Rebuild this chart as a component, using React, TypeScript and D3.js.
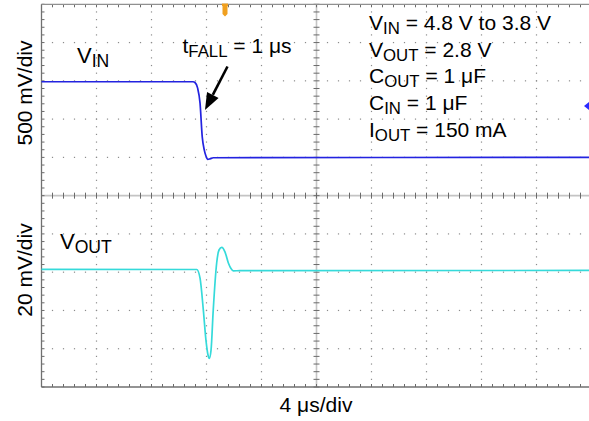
import React from "react";
import * as d3 from "d3";

// ---- Data (time in µs, voltages in V) ----
const vinTimeUs = [-20, -8.98, -8.84, -8.65, -8.47, -8.31, -8.16, -8.04, -7.91, -7.75, -7.51, 20];
const vinVolts = [4.8, 4.8, 4.79, 4.72, 4.52, 4.08, 3.907, 3.83, 3.786, 3.792, 3.807, 3.812];

const voutTimeUs = [-20, -8.71, -8.47, -8.23, -8.04, -7.89, -7.8, -7.67, -7.51, -7.26, -7.09, -6.89, -6.65, -6.41, -6.22, -6.05, -5.56, 20];
const voutVolts = [2.8004, 2.8003, 2.7958, 2.7791, 2.7634, 2.7556, 2.7538, 2.7582, 2.7791, 2.8037, 2.8105, 2.8119, 2.8094, 2.8037, 2.8008, 2.7996, 2.7997, 2.7998];

const timeDomainUs = [-20, 20];
const vinDomain = [0.8118, 5.8118]; // 500 mV/div, 10 div
const voutDomain = [2.7389, 2.9389]; // 20 mV/div, 10 div

const yLabelTop = "500 mV/div";
const yLabelBottom = "20 mV/div";
const xLabel = "4 \u03bcs/div";

const paramLines: [string, string, string][] = [
  ["V", "IN", " = 4.8 V to 3.8 V"],
  ["V", "OUT", " = 2.8 V"],
  ["C", "OUT", " = 1 \u03bcF"],
  ["C", "IN", " = 1 \u03bcF"],
  ["I", "OUT", " = 150 mA"],
];

// ---- Layout ----
const W = 589;
const H = 421;
const left = 41.5;
const top = 4.3;
const divW = 55;
const divH = 38.27;
const nDiv = 10;
const right = left + divW * nDiv;
const bottom = top + divH * nDiv;
const FONT = "'Liberation Sans', Arial, Helvetica, sans-serif";

const VIN_COLOR = "#2323e0";
const VOUT_COLOR = "#35dada";

export default function App() {
  const x = d3.scaleLinear().domain(timeDomainUs).range([left, right]);
  const yVin = d3.scaleLinear().domain(vinDomain).range([bottom, top]);
  const yVout = d3.scaleLinear().domain(voutDomain).range([bottom, top]);

  const vinLine = d3
    .line<number>()
    .x((_, i) => x(vinTimeUs[i]))
    .y((d) => yVin(d))
    .curve(d3.curveMonotoneX);
  const voutLine = d3
    .line<number>()
    .x((_, i) => x(voutTimeUs[i]))
    .y((d) => yVout(d))
    .curve(d3.curveMonotoneX);

  const minorX = d3.range(0, nDiv * 5 + 1).map((j) => left + (j * divW) / 5);
  const minorY = d3.range(0, nDiv * 5 + 1).map((j) => top + (j * divH) / 5);

  const grid: React.ReactNode[] = [];
  // dotted grid lines
  for (let i = 1; i < nDiv; i++) {
    if (i === 5) continue;
    const gx = left + i * divW;
    const gy = top + i * divH;
    minorY.forEach((yy, j) => {
      if (j === 0 || j === minorY.length - 1) return;
      grid.push(<rect key={`vd${i}-${j}`} x={gx - 0.6} y={yy - 0.6} width={1.2} height={1.2} fill="#8c8c8c" />);
    });
    minorX.forEach((xx, j) => {
      if (j === 0) return;
      grid.push(<rect key={`hd${i}-${j}`} x={xx - 0.6} y={gy - 0.6} width={1.2} height={1.2} fill="#8c8c8c" />);
    });
  }
  // center lines
  const cx = left + 5 * divW;
  const cy = top + 5 * divH;
  grid.push(<line key="cvl" x1={cx} x2={cx} y1={top} y2={bottom} stroke="#c4c4c4" strokeWidth={1.6} />);
  grid.push(<line key="chl" x1={left} x2={right} y1={cy} y2={cy} stroke="#c4c4c4" strokeWidth={1.6} />);
  minorY.forEach((yy, j) => {
    grid.push(<line key={`ct${j}`} x1={cx - 3} x2={cx + 3} y1={yy} y2={yy} stroke="#6a6a6a" strokeWidth={1} />);
    grid.push(<line key={`lt${j}`} x1={left} x2={left + 3} y1={yy} y2={yy} stroke="#6a6a6a" strokeWidth={1} />);
  });
  minorX.forEach((xx, j) => {
    grid.push(<line key={`chT${j}`} x1={xx} x2={xx} y1={cy - 3} y2={cy + 3} stroke="#6a6a6a" strokeWidth={1} />);
    grid.push(<line key={`tt${j}`} x1={xx} x2={xx} y1={top} y2={top + 3} stroke="#6a6a6a" strokeWidth={1} />);
    grid.push(<line key={`bt${j}`} x1={xx} x2={xx} y1={bottom - 3} y2={bottom} stroke="#6a6a6a" strokeWidth={1} />);
  });

  // arrow
  const ax1 = 227.5, ay1 = 66.5, ax2 = 205, ay2 = 110;
  const ang = Math.atan2(ay2 - ay1, ax2 - ax1);
  const headLen = 17, headHalf = 6.5;
  const bx = ax2 - headLen * Math.cos(ang);
  const by = ay2 - headLen * Math.sin(ang);
  const px = -Math.sin(ang), py = Math.cos(ang);
  const head = `M${ax2},${ay2} L${bx + px * headHalf},${by + py * headHalf} L${bx - px * headHalf},${by - py * headHalf} Z`;

  const sub = (main: string, s: string, rest: string, size: number) => (
    <>
      {main}
      <tspan fontSize={size * 0.8} dy={4}>{s}</tspan>
      <tspan dy={-4}>{rest}</tspan>
    </>
  );

  return (
    <svg width={W} height={H} style={{ position: "absolute", left: 0, top: 0, background: "#fff" }} fontFamily={FONT}>
      <rect x={0} y={0} width={W} height={H} fill="#fff" />
      {grid}
      {/* border */}
      <line x1={left} x2={left} y1={top} y2={bottom} stroke="#707070" strokeWidth={1.3} />
      <line x1={left} x2={right} y1={top} y2={top} stroke="#909090" strokeWidth={1.3} />
      <line x1={left} x2={right} y1={bottom} y2={bottom} stroke="#707070" strokeWidth={1.3} />

      {/* traces */}
      <path d={vinLine(vinVolts) ?? ""} fill="none" stroke={VIN_COLOR} strokeWidth={1.7} />
      <path d={voutLine(voutVolts) ?? ""} fill="none" stroke={VOUT_COLOR} strokeWidth={1.7} />

      {/* markers */}
      <path d="M222,3.5 L228,3.5 L228,6 L227.5,6 L227.5,14 L225,16.5 L222.5,14 L222.5,6 L222,6 Z" fill="#f0a020" />
      <path d="M584,106 L589,102 L589,110 Z" fill="#2a2aff" />

      {/* arrow */}
      <line x1={ax1} y1={ay1} x2={bx} y2={by} stroke="#000" strokeWidth={2.6} />
      <path d={head} fill="#000" />

      {/* labels */}
      <text x={77} y={63} fontSize={22} fill="#000">{sub("V", "IN", "", 22)}</text>
      <text x={60} y={249.3} fontSize={22} fill="#000">{sub("V", "OUT", "", 22)}</text>
      <text x={182.5} y={53} fontSize={21} fill="#000">{sub("t", "FALL", " = 1 \u03bcs", 21)}</text>

      {paramLines.map((p, i) => (
        <text key={i} x={369} y={30 + i * 26.7} fontSize={21} fill="#000">
          {sub(p[0], p[1], p[2], 21)}
        </text>
      ))}

      <text transform={`translate(32,93) rotate(-90)`} textAnchor="middle" fontSize={21} fill="#000">{yLabelTop}</text>
      <text transform={`translate(32,270) rotate(-90)`} textAnchor="middle" fontSize={21} fill="#000">{yLabelBottom}</text>
      <text x={316} y={411.5} textAnchor="middle" fontSize={21} fill="#000">{xLabel}</text>
    </svg>
  );
}
